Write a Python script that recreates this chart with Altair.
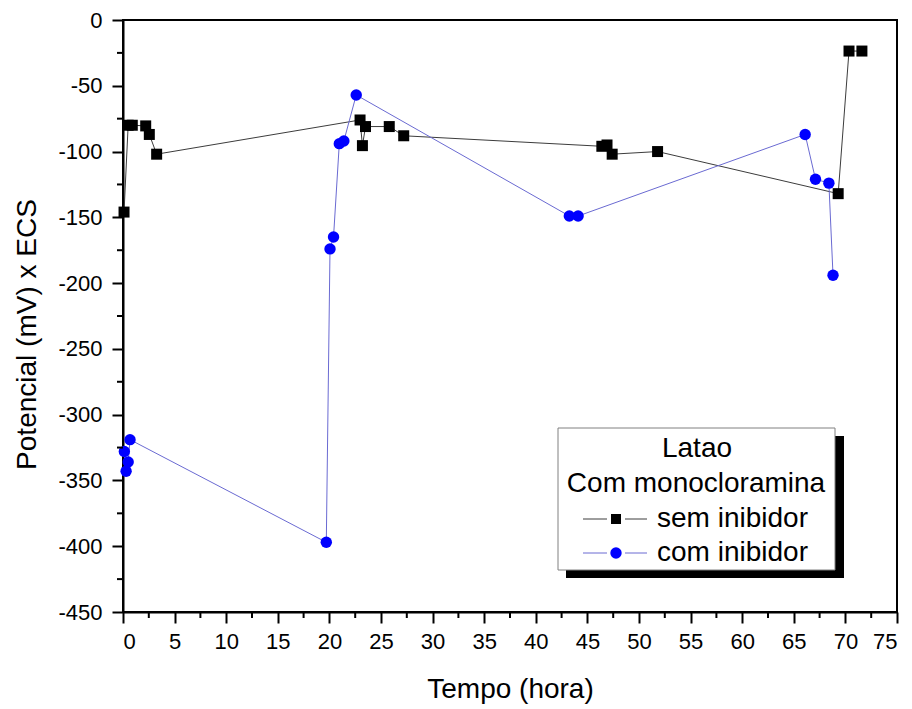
import altair as alt
import pandas as pd

# ---- data ----
series = ["sem inibidor", "com inibidor"]
legend_title = ["Latao", "Com monocloramina"]

sem_t = [0.1, 0.5, 0.9, 2.2, 2.55, 3.26, 22.97, 23.2, 23.5, 25.8, 27.2,
         46.4, 46.9, 47.4, 51.8, 69.3, 70.35, 71.6]
sem_v = [-146, -80, -80, -80.5, -87, -102, -76, -95.5, -81, -81, -88,
         -96, -95, -102, -100, -132, -23.6, -23.6]

com_t = [0.13, 0.3, 0.5, 0.68, 19.7, 20.06, 20.4, 20.96, 21.4, 22.6,
         43.25, 44.1, 66.1, 67.1, 68.4, 68.8]
com_v = [-328, -343, -336, -319, -397, -174, -165, -94, -92, -57,
         -149, -149, -87, -121, -124, -194]

x_major = [0, 5, 10, 15, 20, 25, 30, 35, 40, 45, 50, 55, 60, 65, 70, 75]
x_minor = [2.5, 7.5, 12.5, 17.5, 22.5, 27.5, 32.5, 37.5, 42.5, 47.5,
           52.5, 57.5, 62.5, 67.5, 72.5]
y_major = [0, -50, -100, -150, -200, -250, -300, -350, -400, -450]
y_minor = [-25, -75, -125, -175, -225, -275, -325, -375, -425]

FONT = "Liberation Sans"
W, H = 774, 592

df_sem = pd.DataFrame({"t": sem_t, "v": sem_v})
df_com = pd.DataFrame({"t": com_t, "v": com_v})

xscale = alt.Scale(domain=[0, 75], nice=False, zero=False)
yscale = alt.Scale(domain=[-450, 0], nice=False, zero=False)
label_expr = "datum.value < 0 ? '-' + abs(datum.value) : '' + datum.value"

X = alt.X("t:Q", scale=xscale,
          axis=alt.Axis(values=x_major, title="Tempo (hora)", labelExpr=label_expr,
                        labelPadding=8, titleY=85, titleBaseline="alphabetic"))
Y = alt.Y("v:Q", scale=yscale,
          axis=alt.Axis(values=y_major, title="Potencial (mV) x ECS", labelExpr=label_expr,
                        labelPadding=10, titleX=-88, titleY=314, titleBaseline="alphabetic",
                        titleAngle=270))

line_sem = alt.Chart(df_sem).mark_line(color="#3c3c3c", strokeWidth=1).encode(x=X, y=Y)
line_com = alt.Chart(df_com).mark_line(color="#6a6ad2", strokeWidth=1).encode(x=X, y=Y)
pts_sem = alt.Chart(df_sem).mark_point(shape="square", filled=True, color="black",
                                        size=121, opacity=1).encode(x=X, y=Y)
pts_com = alt.Chart(df_com).mark_point(shape="circle", filled=True, color="#0000ff",
                                        size=130, opacity=1).encode(x=X, y=Y)

# minor ticks
xm = alt.Chart(pd.DataFrame({"t": x_minor})).mark_rule(color="black", strokeWidth=2, clip=False).encode(
    x=alt.X("t:Q", scale=xscale), y=alt.value(H), y2=alt.value(H + 6))
ym = alt.Chart(pd.DataFrame({"v": y_minor})).mark_rule(color="black", strokeWidth=2, clip=False).encode(
    y=alt.Y("v:Q", scale=yscale), x=alt.value(-6), x2=alt.value(0))

# legend box (pixel decorations)
one = pd.DataFrame({"a": [0]})
shadow = alt.Chart(one).mark_rect(color="black").encode(
    x=alt.value(443), x2=alt.value(721), y=alt.value(416), y2=alt.value(558))
box = alt.Chart(one).mark_rect(fill="white", stroke="#808080", strokeWidth=1).encode(
    x=alt.value(435), x2=alt.value(712), y=alt.value(408), y2=alt.value(550))

def txt(label, x, y, align):
    return alt.Chart(pd.DataFrame({"label": [label]})).mark_text(
        font=FONT, fontSize=28, color="black", align=align, baseline="middle"
    ).encode(text="label:N", x=alt.value(x), y=alt.value(y))

ttl1 = txt(legend_title[0], 574, 429, "center")
ttl2 = txt(legend_title[1], 573, 464, "center")
it1 = txt(series[0], 534, 499, "left")
it2 = txt(series[1], 534, 533, "left")

def seg(x1, x2, y, color):
    return alt.Chart(one).mark_rule(color=color, strokeWidth=1).encode(
        x=alt.value(x1), x2=alt.value(x2), y=alt.value(y))

seg_sem1 = seg(460, 484, 499, "#3c3c3c")
seg_sem2 = seg(502, 524, 499, "#3c3c3c")
seg_com1 = seg(460, 484, 533, "#6a6ad2")
seg_com2 = seg(502, 524, 533, "#6a6ad2")
mk_sem = alt.Chart(one).mark_point(shape="square", filled=True, color="black",
                                   size=100, opacity=1).encode(x=alt.value(493), y=alt.value(499))
mk_com = alt.Chart(one).mark_point(shape="circle", filled=True, color="#0000ff",
                                   size=130, opacity=1).encode(x=alt.value(493), y=alt.value(533))

chart = alt.layer(
    line_sem, line_com, pts_sem, pts_com, xm, ym,
    shadow, box, ttl1, ttl2, it1, it2, seg_sem1, seg_sem2, seg_com1, seg_com2, mk_sem, mk_com
).properties(
    width=W, height=H,
    autosize=alt.AutoSizeParams(type="none"),
    padding={"left": 123, "top": 20, "right": 15, "bottom": 97},
    background="white",
).configure_view(
    stroke="black", strokeWidth=2
).configure_axis(
    grid=False, domainColor="black", domainWidth=2, tickColor="black", tickWidth=2,
    tickSize=11, labelFont=FONT, labelFontSize=22, labelColor="black",
    titleFont=FONT, titleFontSize=28, titleFontWeight="normal", titleColor="black",
)

chart.save("out.html", embed_options={"renderer": "svg", "actions": False})
